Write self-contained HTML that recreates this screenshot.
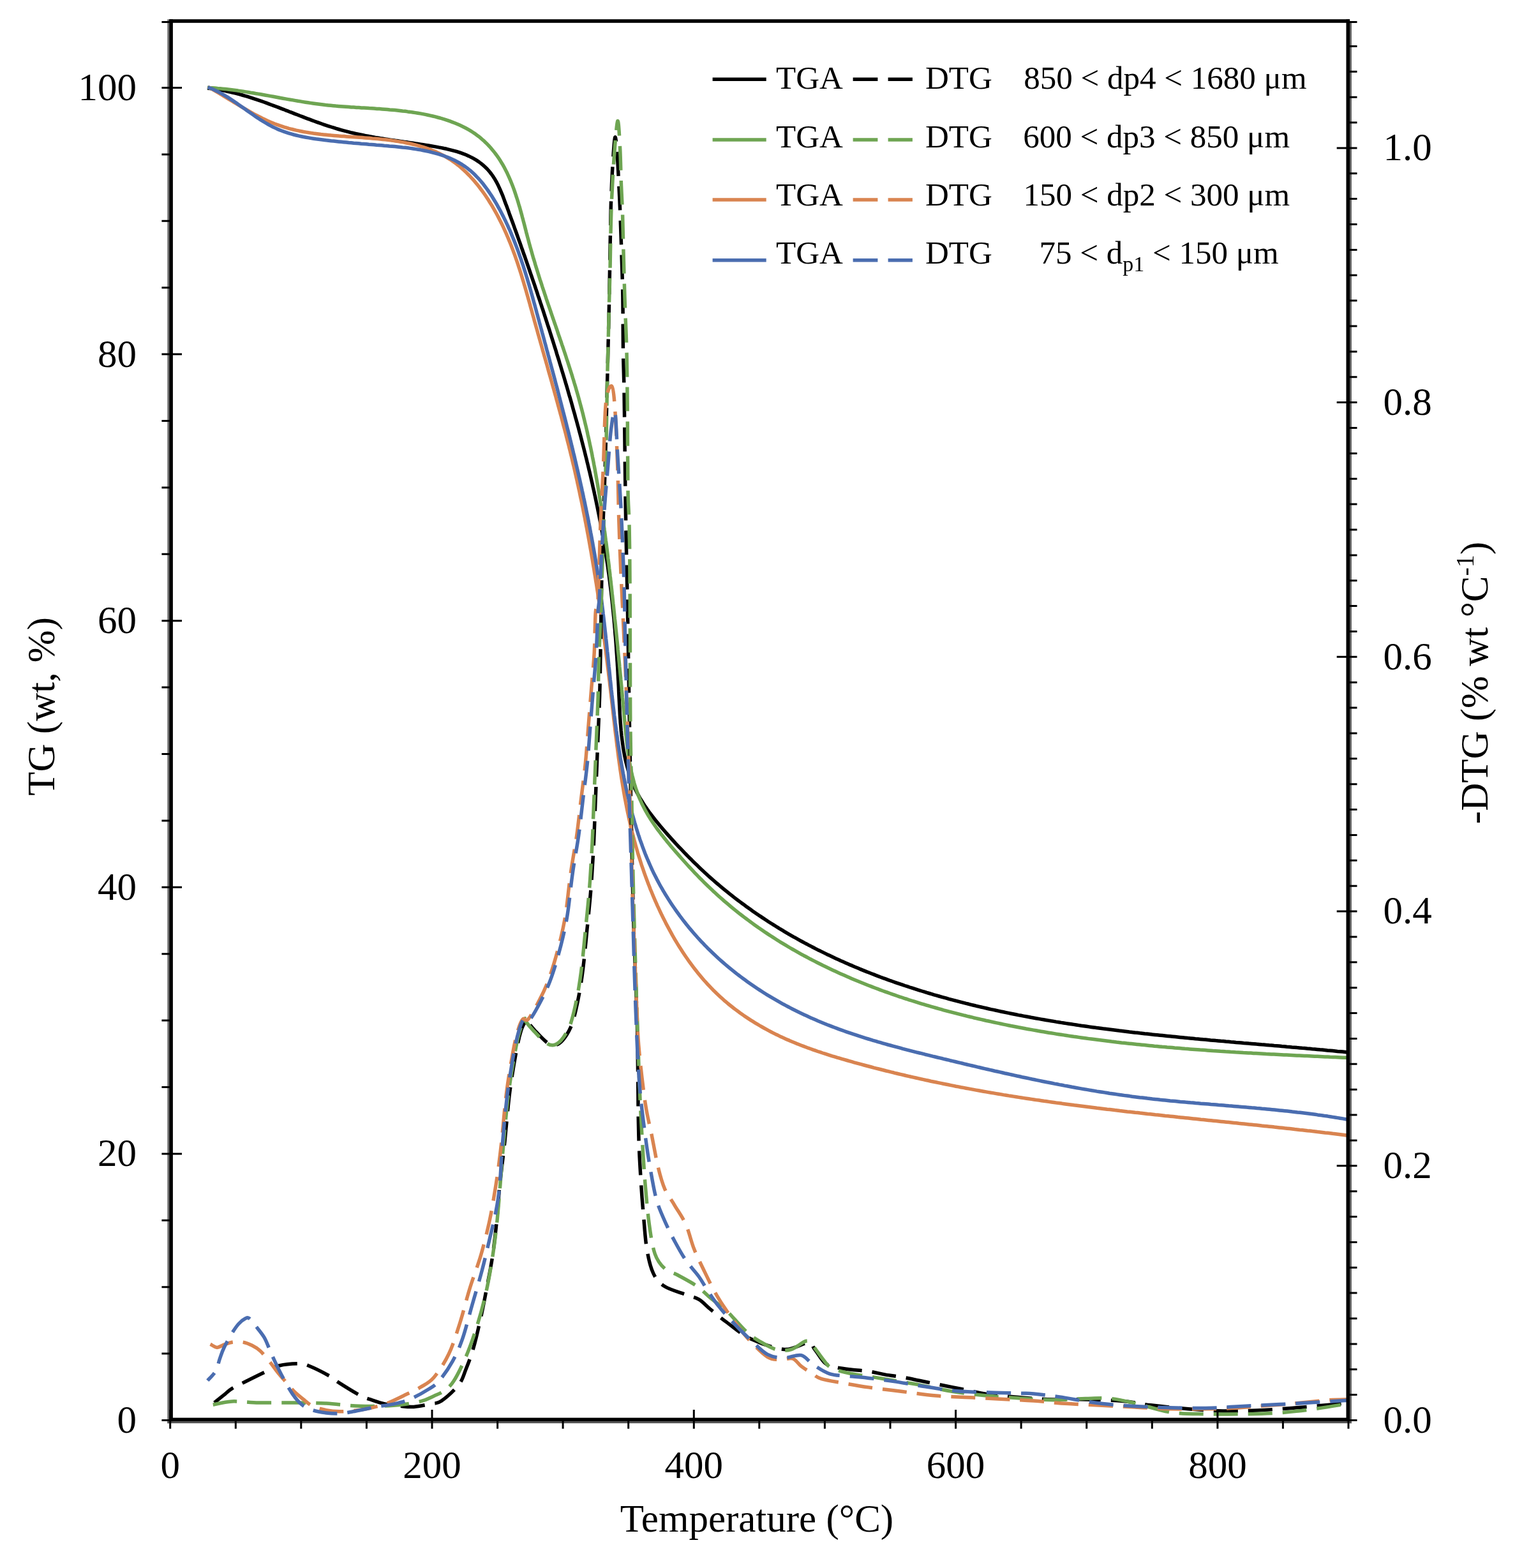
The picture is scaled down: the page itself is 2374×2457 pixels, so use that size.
<!DOCTYPE html>
<html><head><meta charset="utf-8"><title>TGA DTG</title>
<style>
html,body{margin:0;padding:0;background:#fff;}
body{width:2374px;height:2457px;overflow:hidden;}
svg{display:block;}
text{font-family:'Liberation Serif', 'Times New Roman', serif;fill:#000;}
</style></head><body>
<svg width="2374" height="2457" viewBox="0 0 2374 2457">
<rect width="2374" height="2457" fill="#fff"/>
<g fill="none" stroke-width="5.5" stroke-linejoin="round" stroke-linecap="butt">
<path stroke="#000000" d="M325.1 138.2L329.0 138.6L333.0 139.1L336.9 139.6L340.8 140.2L344.8 140.9L348.7 141.6L352.5 142.4L356.4 143.2L360.3 144.1L364.2 145.0L368.0 145.9L371.9 146.9L375.7 147.9L379.6 149.0L383.4 150.1L387.2 151.2L391.0 152.4L394.8 153.6L398.6 154.9L402.4 156.1L406.2 157.4L410.0 158.7L413.8 160.0L417.6 161.4L421.4 162.8L425.1 164.2L428.9 165.6L432.7 167.0L436.4 168.4L440.2 169.9L444.0 171.3L447.7 172.8L451.5 174.2L455.2 175.7L459.0 177.1L462.7 178.6L466.5 180.0L470.2 181.5L474.0 182.9L477.7 184.4L481.5 185.8L485.3 187.2L489.0 188.6L492.8 190.0L496.5 191.3L500.3 192.7L504.1 194.0L507.8 195.3L511.6 196.6L515.4 197.8L519.2 199.0L523.0 200.2L526.7 201.4L530.5 202.5L534.3 203.6L538.1 204.7L542.0 205.7L545.8 206.6L549.6 207.6L553.4 208.5L557.3 209.4L561.1 210.2L564.9 211.0L568.8 211.8L572.7 212.6L576.5 213.3L580.4 214.0L584.3 214.7L588.2 215.4L592.1 216.0L596.0 216.7L599.9 217.3L603.8 217.9L607.7 218.5L611.6 219.1L615.6 219.7L619.5 220.3L623.4 220.8L627.4 221.4L631.4 222.0L635.3 222.6L639.3 223.1L643.3 223.7L647.3 224.3L651.3 224.9L655.3 225.5L659.3 226.1L663.3 226.7L667.4 227.4L671.4 228.0L675.5 228.7L679.5 229.4L683.6 230.1L687.6 230.9L691.7 231.6L695.7 232.5L699.7 233.3L703.7 234.3L707.7 235.3L711.6 236.3L715.5 237.4L719.4 238.6L723.1 239.9L726.9 241.3L730.6 242.8L734.2 244.4L737.7 246.1L741.2 247.9L744.6 249.8L747.8 251.9L751.0 254.1L754.1 256.4L757.1 258.9L760.0 261.5L762.8 264.2L765.4 267.0L767.9 270.0L770.2 273.0L772.5 276.2L774.6 279.4L776.6 282.8L778.5 286.2L780.3 289.7L782.0 293.3L783.6 296.9L785.2 300.6L786.8 304.3L788.3 308.1L789.7 311.9L791.1 315.7L792.5 319.5L794.0 323.3L795.4 327.1L796.8 330.9L798.1 334.7L799.5 338.5L800.9 342.2L802.3 346.0L803.7 349.8L805.1 353.6L806.4 357.4L807.8 361.2L809.2 365.0L810.5 368.8L811.9 372.6L813.2 376.3L814.6 380.1L815.9 383.9L817.2 387.7L818.6 391.5L819.9 395.3L821.2 399.0L822.6 402.8L823.9 406.6L825.2 410.4L826.5 414.1L827.8 417.9L829.1 421.7L830.4 425.5L831.7 429.3L833.0 433.0L834.3 436.8L835.6 440.6L836.9 444.4L838.2 448.1L839.4 451.9L840.7 455.7L842.0 459.5L843.2 463.3L844.5 467.0L845.8 470.8L847.0 474.6L848.3 478.4L849.5 482.2L850.8 485.9L852.0 489.7L853.2 493.5L854.5 497.3L855.7 501.1L856.9 504.9L858.1 508.7L859.4 512.5L860.6 516.2L861.8 520.0L863.0 523.8L864.2 527.6L865.4 531.4L866.6 535.2L867.8 539.0L869.0 542.8L870.2 546.6L871.4 550.4L872.5 554.3L873.7 558.1L874.9 561.9L876.1 565.7L877.2 569.5L878.4 573.3L879.5 577.1L880.7 581.0L881.9 584.8L883.0 588.6L884.2 592.5L885.3 596.3L886.4 600.1L887.6 603.9L888.7 607.8L889.8 611.6L890.9 615.5L892.0 619.3L893.2 623.1L894.3 627.0L895.4 630.8L896.5 634.7L897.5 638.5L898.6 642.4L899.7 646.2L900.8 650.1L901.8 654.0L902.9 657.8L904.0 661.7L905.0 665.5L906.1 669.4L907.1 673.3L908.1 677.1L909.2 681.0L910.2 684.9L911.2 688.8L912.2 692.6L913.2 696.5L914.2 700.4L915.2 704.3L916.2 708.1L917.1 712.0L918.1 715.9L919.1 719.8L920.0 723.7L921.0 727.6L921.9 731.4L922.8 735.3L923.8 739.2L924.7 743.1L925.6 747.0L926.5 750.9L927.4 754.8L928.3 758.7L929.1 762.6L930.0 766.5L930.9 770.4L931.7 774.3L932.6 778.2L933.4 782.1L934.2 786.0L935.0 789.9L935.8 793.8L936.6 797.7L937.4 801.6L938.2 805.6L939.0 809.5L939.7 813.4L940.5 817.3L941.2 821.2L942.0 825.1L942.7 829.0L943.4 833.0L944.1 836.9L944.8 840.8L945.5 844.7L946.2 848.6L946.8 852.6L947.5 856.5L948.1 860.4L948.8 864.3L949.4 868.3L950.0 872.2L950.6 876.1L951.2 880.1L951.8 884.0L952.3 887.9L952.9 891.8L953.4 895.8L954.0 899.7L954.5 903.7L955.0 907.6L955.5 911.5L956.0 915.5L956.5 919.4L957.0 923.4L957.5 927.3L957.9 931.2L958.4 935.2L958.8 939.1L959.3 943.1L959.7 947.1L960.1 951.0L960.5 955.0L960.9 958.9L961.3 962.9L961.7 966.9L962.1 970.8L962.4 974.8L962.8 978.8L963.1 982.8L963.5 986.7L963.8 990.7L964.1 994.7L964.5 998.7L964.8 1002.7L965.1 1006.7L965.4 1010.7L965.7 1014.7L965.9 1018.7L966.2 1022.7L966.5 1026.7L966.8 1030.8L967.0 1034.8L967.3 1038.8L967.5 1042.8L967.8 1046.9L968.0 1050.9L968.2 1055.0L968.4 1059.0L968.6 1063.1L968.9 1067.1L969.1 1071.2L969.3 1075.2L969.5 1079.3L969.6 1083.4L969.8 1087.5L970.0 1091.6L970.2 1095.6L970.4 1099.7L970.6 1103.8L970.8 1107.9L971.0 1112.0L971.2 1116.1L971.4 1120.1L971.7 1124.2L972.0 1128.3L972.2 1132.3L972.6 1136.4L972.9 1140.4L973.2 1144.5L973.6 1148.5L974.0 1152.5L974.5 1156.5L975.0 1160.5L975.5 1164.5L976.1 1168.4L976.6 1172.3L977.3 1176.3L978.0 1180.2L978.7 1184.0L979.5 1187.9L980.3 1191.7L981.2 1195.6L982.2 1199.4L983.2 1203.1L984.2 1206.9L985.3 1210.6L986.5 1214.3L987.8 1217.9L989.1 1221.6L990.5 1225.2L991.9 1228.7L993.5 1232.3L995.1 1235.8L996.8 1239.2L998.5 1242.7L1000.4 1246.1L1002.3 1249.5L1004.2 1252.8L1006.3 1256.1L1008.3 1259.4L1010.5 1262.7L1012.7 1265.9L1014.9 1269.2L1017.2 1272.4L1019.6 1275.5L1022.0 1278.7L1024.4 1281.8L1026.9 1284.9L1029.4 1288.0L1031.9 1291.1L1034.5 1294.2L1037.1 1297.3L1039.7 1300.3L1042.3 1303.3L1045.0 1306.4L1047.7 1309.4L1050.4 1312.4L1053.1 1315.4L1055.8 1318.4L1058.5 1321.4L1061.3 1324.3L1064.1 1327.3L1066.9 1330.2L1069.7 1333.2L1072.5 1336.1L1075.3 1339.0L1078.1 1341.9L1081.0 1344.8L1083.9 1347.6L1086.7 1350.5L1089.6 1353.3L1092.6 1356.1L1095.5 1358.9L1098.4 1361.7L1101.4 1364.5L1104.3 1367.2L1107.3 1370.0L1110.3 1372.7L1113.3 1375.4L1116.3 1378.0L1119.4 1380.7L1122.4 1383.3L1125.5 1385.9L1128.5 1388.5L1131.6 1391.1L1134.7 1393.6L1137.8 1396.2L1140.9 1398.7L1144.0 1401.2L1147.2 1403.7L1150.3 1406.1L1153.5 1408.6L1156.7 1411.0L1159.9 1413.4L1163.1 1415.8L1166.3 1418.1L1169.5 1420.5L1172.7 1422.8L1176.0 1425.1L1179.2 1427.4L1182.5 1429.7L1185.8 1432.0L1189.1 1434.2L1192.4 1436.4L1195.7 1438.6L1199.0 1440.8L1202.3 1443.0L1205.7 1445.2L1209.0 1447.3L1212.4 1449.4L1215.8 1451.5L1219.2 1453.6L1222.5 1455.7L1225.9 1457.7L1229.4 1459.8L1232.8 1461.8L1236.2 1463.8L1239.7 1465.8L1243.1 1467.8L1246.6 1469.7L1250.0 1471.6L1253.5 1473.6L1257.0 1475.5L1260.5 1477.4L1264.0 1479.2L1267.5 1481.1L1271.0 1482.9L1274.6 1484.8L1278.1 1486.6L1281.6 1488.4L1285.2 1490.1L1288.8 1491.9L1292.3 1493.6L1295.9 1495.4L1299.5 1497.1L1303.1 1498.8L1306.7 1500.5L1310.3 1502.2L1313.9 1503.8L1317.5 1505.5L1321.2 1507.1L1324.8 1508.7L1328.5 1510.3L1332.1 1511.9L1335.8 1513.4L1339.4 1515.0L1343.1 1516.5L1346.8 1518.1L1350.5 1519.6L1354.2 1521.1L1357.9 1522.6L1361.6 1524.0L1365.3 1525.5L1369.0 1526.9L1372.7 1528.4L1376.5 1529.8L1380.2 1531.2L1383.9 1532.6L1387.7 1533.9L1391.5 1535.3L1395.2 1536.7L1399.0 1538.0L1402.7 1539.3L1406.5 1540.6L1410.3 1541.9L1414.1 1543.2L1417.9 1544.5L1421.7 1545.7L1425.5 1547.0L1429.3 1548.2L1433.1 1549.4L1436.9 1550.6L1440.7 1551.8L1444.5 1553.0L1448.4 1554.2L1452.2 1555.4L1456.0 1556.5L1459.9 1557.6L1463.7 1558.8L1467.6 1559.9L1471.4 1561.0L1475.3 1562.1L1479.1 1563.1L1483.0 1564.2L1486.8 1565.3L1490.7 1566.3L1494.6 1567.3L1498.5 1568.4L1502.3 1569.4L1506.2 1570.4L1510.1 1571.4L1514.0 1572.4L1517.9 1573.3L1521.8 1574.3L1525.6 1575.2L1529.5 1576.2L1533.4 1577.1L1537.3 1578.0L1541.2 1578.9L1545.1 1579.8L1549.0 1580.7L1552.9 1581.6L1556.9 1582.4L1560.8 1583.3L1564.7 1584.1L1568.6 1585.0L1572.5 1585.8L1576.4 1586.6L1580.3 1587.4L1584.2 1588.2L1588.2 1589.0L1592.1 1589.8L1596.0 1590.6L1599.9 1591.3L1603.9 1592.1L1607.8 1592.8L1611.7 1593.5L1615.6 1594.3L1619.6 1595.0L1623.5 1595.7L1627.4 1596.4L1631.4 1597.1L1635.3 1597.8L1639.3 1598.5L1643.2 1599.1L1647.1 1599.8L1651.1 1600.4L1655.0 1601.1L1659.0 1601.7L1662.9 1602.4L1666.8 1603.0L1670.8 1603.6L1674.7 1604.2L1678.7 1604.8L1682.6 1605.4L1686.6 1606.0L1690.5 1606.6L1694.5 1607.2L1698.5 1607.7L1702.4 1608.3L1706.4 1608.9L1710.3 1609.4L1714.3 1609.9L1718.2 1610.5L1722.2 1611.0L1726.2 1611.5L1730.1 1612.1L1734.1 1612.6L1738.0 1613.1L1742.0 1613.6L1746.0 1614.1L1749.9 1614.6L1753.9 1615.1L1757.9 1615.5L1761.8 1616.0L1765.8 1616.5L1769.8 1617.0L1773.8 1617.4L1777.7 1617.9L1781.7 1618.3L1785.7 1618.8L1789.6 1619.2L1793.6 1619.7L1797.6 1620.1L1801.6 1620.5L1805.5 1621.0L1809.5 1621.4L1813.5 1621.8L1817.5 1622.2L1821.4 1622.6L1825.4 1623.0L1829.4 1623.4L1833.4 1623.8L1837.4 1624.2L1841.3 1624.6L1845.3 1625.0L1849.3 1625.4L1853.3 1625.8L1857.3 1626.2L1861.2 1626.6L1865.2 1626.9L1869.2 1627.3L1873.2 1627.7L1877.2 1628.0L1881.1 1628.4L1885.1 1628.8L1889.1 1629.1L1893.1 1629.5L1897.1 1629.9L1901.1 1630.2L1905.0 1630.6L1909.0 1630.9L1913.0 1631.3L1917.0 1631.6L1921.0 1632.0L1925.0 1632.3L1928.9 1632.7L1932.9 1633.0L1936.9 1633.4L1940.9 1633.7L1944.9 1634.0L1948.9 1634.4L1952.8 1634.7L1956.8 1635.1L1960.8 1635.4L1964.8 1635.7L1968.8 1636.1L1972.8 1636.4L1976.7 1636.8L1980.7 1637.1L1984.7 1637.4L1988.7 1637.8L1992.7 1638.1L1996.6 1638.5L2000.6 1638.8L2004.6 1639.1L2008.6 1639.5L2012.6 1639.8L2016.5 1640.2L2020.5 1640.5L2024.5 1640.9L2028.5 1641.2L2032.5 1641.6L2036.4 1641.9L2040.4 1642.3L2044.4 1642.6L2048.4 1643.0L2052.3 1643.3L2056.3 1643.7L2060.3 1644.0L2064.3 1644.4L2068.2 1644.8L2072.2 1645.1L2076.2 1645.5L2080.1 1645.9L2084.1 1646.2L2088.1 1646.6L2092.1 1647.0L2096.0 1647.4L2100.0 1647.7L2104.0 1648.1L2107.9 1648.5L2111.9 1648.9"/>
<path stroke="#6EA552" d="M324.9 137.3L328.9 137.6L333.0 137.8L337.0 138.1L341.1 138.5L345.1 138.8L349.1 139.2L353.1 139.6L357.1 140.1L361.1 140.6L365.1 141.1L369.0 141.6L373.0 142.1L376.9 142.7L380.9 143.3L384.8 143.9L388.8 144.5L392.7 145.2L396.6 145.8L400.5 146.5L404.5 147.1L408.4 147.8L412.3 148.5L416.2 149.2L420.1 149.9L424.0 150.6L427.9 151.3L431.8 152.0L435.7 152.7L439.6 153.5L443.5 154.2L447.4 154.9L451.3 155.6L455.2 156.3L459.1 156.9L463.0 157.6L466.9 158.3L470.8 158.9L474.8 159.6L478.7 160.2L482.6 160.8L486.5 161.4L490.5 162.0L494.4 162.5L498.4 163.0L502.3 163.5L506.3 164.0L510.2 164.5L514.2 164.9L518.2 165.3L522.2 165.7L526.2 166.1L530.2 166.4L534.2 166.7L538.2 167.0L542.2 167.3L546.2 167.6L550.2 167.9L554.3 168.1L558.3 168.4L562.3 168.6L566.4 168.9L570.4 169.1L574.4 169.3L578.5 169.6L582.5 169.8L586.5 170.1L590.6 170.4L594.6 170.6L598.6 170.9L602.7 171.2L606.7 171.5L610.7 171.9L614.7 172.2L618.8 172.6L622.8 173.0L626.8 173.4L630.8 173.9L634.8 174.3L638.8 174.9L642.8 175.4L646.7 176.0L650.7 176.6L654.7 177.2L658.6 177.9L662.6 178.6L666.5 179.4L670.4 180.2L674.3 181.1L678.2 182.0L682.1 182.9L686.0 184.0L689.9 185.0L693.7 186.2L697.6 187.3L701.4 188.6L705.1 189.9L708.9 191.3L712.6 192.7L716.2 194.2L719.8 195.8L723.4 197.5L726.9 199.2L730.4 201.0L733.8 202.9L737.2 204.9L740.5 207.0L743.7 209.1L746.9 211.4L750.0 213.7L753.0 216.1L755.9 218.7L758.8 221.2L761.6 223.9L764.3 226.7L767.0 229.5L769.6 232.4L772.1 235.4L774.5 238.4L776.9 241.5L779.2 244.6L781.4 247.8L783.5 251.1L785.6 254.4L787.6 257.7L789.5 261.1L791.3 264.6L793.1 268.0L794.9 271.6L796.5 275.1L798.1 278.7L799.7 282.3L801.2 286.0L802.7 289.7L804.1 293.4L805.5 297.2L806.8 301.0L808.1 304.8L809.3 308.6L810.6 312.5L811.8 316.3L812.9 320.2L814.1 324.1L815.2 328.0L816.3 332.0L817.4 335.9L818.4 339.9L819.5 343.8L820.5 347.8L821.6 351.8L822.6 355.7L823.6 359.7L824.6 363.7L825.7 367.7L826.7 371.6L827.8 375.6L828.8 379.5L829.9 383.5L831.0 387.4L832.1 391.3L833.2 395.3L834.3 399.2L835.4 403.1L836.6 406.9L837.8 410.8L838.9 414.7L840.1 418.6L841.3 422.4L842.5 426.3L843.7 430.1L844.9 434.0L846.1 437.8L847.4 441.6L848.6 445.4L849.8 449.3L851.1 453.1L852.4 456.9L853.6 460.7L854.9 464.5L856.1 468.3L857.4 472.0L858.7 475.8L860.0 479.6L861.3 483.4L862.6 487.2L863.8 490.9L865.1 494.7L866.4 498.5L867.7 502.2L869.0 506.0L870.3 509.7L871.6 513.5L872.9 517.2L874.1 521.0L875.4 524.8L876.7 528.5L878.0 532.3L879.3 536.0L880.5 539.8L881.8 543.5L883.1 547.3L884.3 551.0L885.6 554.8L886.8 558.5L888.0 562.3L889.3 566.1L890.5 569.8L891.7 573.6L892.9 577.4L894.1 581.1L895.3 584.9L896.5 588.7L897.6 592.5L898.8 596.2L899.9 600.0L901.1 603.8L902.2 607.6L903.3 611.4L904.4 615.2L905.5 619.1L906.6 622.9L907.6 626.7L908.6 630.5L909.7 634.4L910.7 638.2L911.7 642.0L912.7 645.9L913.7 649.8L914.6 653.6L915.6 657.5L916.5 661.4L917.4 665.2L918.4 669.1L919.3 673.0L920.2 676.9L921.0 680.8L921.9 684.7L922.8 688.6L923.6 692.5L924.4 696.4L925.3 700.3L926.1 704.2L926.9 708.1L927.7 712.0L928.4 716.0L929.2 719.9L930.0 723.8L930.7 727.8L931.5 731.7L932.2 735.6L932.9 739.6L933.6 743.5L934.3 747.5L935.0 751.4L935.7 755.4L936.4 759.3L937.1 763.3L937.7 767.3L938.4 771.2L939.0 775.2L939.6 779.1L940.3 783.1L940.9 787.1L941.5 791.1L942.1 795.0L942.7 799.0L943.3 803.0L943.9 806.9L944.5 810.9L945.0 814.9L945.6 818.9L946.1 822.9L946.7 826.8L947.2 830.8L947.8 834.8L948.3 838.8L948.8 842.8L949.3 846.8L949.9 850.7L950.4 854.7L950.9 858.7L951.4 862.7L951.9 866.7L952.4 870.6L952.8 874.6L953.3 878.6L953.8 882.6L954.3 886.6L954.7 890.5L955.2 894.5L955.7 898.5L956.1 902.5L956.6 906.4L957.0 910.4L957.5 914.4L957.9 918.4L958.4 922.3L958.8 926.3L959.2 930.3L959.7 934.2L960.1 938.2L960.5 942.2L960.9 946.1L961.4 950.1L961.8 954.0L962.2 958.0L962.6 961.9L963.0 965.9L963.4 969.8L963.9 973.8L964.3 977.8L964.7 981.7L965.1 985.7L965.5 989.6L965.9 993.6L966.3 997.5L966.7 1001.5L967.1 1005.4L967.5 1009.4L967.9 1013.3L968.2 1017.3L968.6 1021.2L969.0 1025.2L969.4 1029.2L969.8 1033.1L970.2 1037.1L970.6 1041.0L970.9 1045.0L971.3 1049.0L971.7 1052.9L972.1 1056.9L972.5 1060.9L972.8 1064.8L973.2 1068.8L973.6 1072.8L974.0 1076.8L974.3 1080.7L974.7 1084.7L975.1 1088.7L975.4 1092.7L975.8 1096.7L976.2 1100.7L976.5 1104.7L976.9 1108.7L977.3 1112.7L977.7 1116.7L978.0 1120.7L978.4 1124.7L978.8 1128.7L979.1 1132.7L979.5 1136.7L979.9 1140.8L980.2 1144.8L980.6 1148.8L981.0 1152.8L981.5 1156.9L981.9 1160.9L982.3 1164.9L982.8 1168.9L983.3 1172.9L983.8 1176.9L984.4 1180.8L984.9 1184.8L985.6 1188.8L986.2 1192.7L986.9 1196.6L987.6 1200.5L988.4 1204.4L989.2 1208.3L990.0 1212.2L990.9 1216.0L991.9 1219.8L992.9 1223.6L993.9 1227.4L995.0 1231.2L996.2 1234.9L997.5 1238.6L998.8 1242.3L1000.1 1246.0L1001.6 1249.6L1003.1 1253.2L1004.7 1256.7L1006.3 1260.3L1008.1 1263.8L1009.9 1267.2L1011.7 1270.7L1013.7 1274.1L1015.6 1277.5L1017.7 1280.8L1019.8 1284.2L1022.0 1287.5L1024.2 1290.8L1026.4 1294.0L1028.7 1297.3L1031.1 1300.5L1033.5 1303.7L1035.9 1306.9L1038.4 1310.0L1040.9 1313.2L1043.4 1316.3L1045.9 1319.5L1048.5 1322.6L1051.1 1325.7L1053.7 1328.7L1056.3 1331.8L1059.0 1334.9L1061.7 1337.9L1064.3 1340.9L1067.0 1344.0L1069.7 1347.0L1072.4 1350.0L1075.1 1353.0L1077.8 1356.0L1080.6 1359.0L1083.3 1361.9L1086.1 1364.9L1088.8 1367.8L1091.6 1370.7L1094.4 1373.6L1097.2 1376.5L1100.1 1379.3L1102.9 1382.2L1105.8 1385.0L1108.6 1387.8L1111.5 1390.6L1114.4 1393.3L1117.3 1396.1L1120.3 1398.8L1123.2 1401.5L1126.2 1404.2L1129.1 1406.8L1132.1 1409.4L1135.1 1412.1L1138.2 1414.7L1141.2 1417.2L1144.3 1419.8L1147.3 1422.3L1150.4 1424.8L1153.5 1427.3L1156.6 1429.8L1159.7 1432.3L1162.9 1434.7L1166.0 1437.1L1169.2 1439.5L1172.4 1441.9L1175.6 1444.2L1178.8 1446.6L1182.0 1448.9L1185.2 1451.2L1188.4 1453.5L1191.7 1455.7L1195.0 1458.0L1198.2 1460.2L1201.5 1462.4L1204.8 1464.6L1208.2 1466.8L1211.5 1468.9L1214.8 1471.0L1218.2 1473.2L1221.5 1475.3L1224.9 1477.3L1228.3 1479.4L1231.7 1481.4L1235.1 1483.5L1238.5 1485.5L1242.0 1487.5L1245.4 1489.4L1248.9 1491.4L1252.3 1493.3L1255.8 1495.3L1259.3 1497.2L1262.8 1499.0L1266.3 1500.9L1269.8 1502.8L1273.3 1504.6L1276.9 1506.4L1280.4 1508.2L1284.0 1510.0L1287.5 1511.8L1291.1 1513.6L1294.7 1515.3L1298.3 1517.0L1301.9 1518.7L1305.5 1520.4L1309.1 1522.1L1312.7 1523.8L1316.3 1525.4L1320.0 1527.0L1323.6 1528.6L1327.3 1530.2L1330.9 1531.8L1334.6 1533.4L1338.3 1535.0L1342.0 1536.5L1345.7 1538.0L1349.4 1539.5L1353.1 1541.0L1356.8 1542.5L1360.5 1544.0L1364.3 1545.4L1368.0 1546.9L1371.7 1548.3L1375.5 1549.7L1379.2 1551.1L1383.0 1552.5L1386.8 1553.8L1390.6 1555.2L1394.3 1556.5L1398.1 1557.9L1401.9 1559.2L1405.7 1560.5L1409.5 1561.8L1413.3 1563.0L1417.1 1564.3L1421.0 1565.5L1424.8 1566.8L1428.6 1568.0L1432.4 1569.2L1436.3 1570.4L1440.1 1571.6L1444.0 1572.8L1447.8 1573.9L1451.7 1575.1L1455.5 1576.2L1459.4 1577.3L1463.2 1578.4L1467.1 1579.5L1471.0 1580.6L1474.9 1581.7L1478.7 1582.8L1482.6 1583.8L1486.5 1584.9L1490.4 1585.9L1494.3 1586.9L1498.2 1587.9L1502.1 1588.9L1506.0 1589.9L1509.9 1590.9L1513.8 1591.8L1517.7 1592.8L1521.6 1593.7L1525.5 1594.7L1529.4 1595.6L1533.3 1596.5L1537.2 1597.4L1541.1 1598.3L1545.0 1599.2L1549.0 1600.0L1552.9 1600.9L1556.8 1601.8L1560.7 1602.6L1564.6 1603.4L1568.6 1604.3L1572.5 1605.1L1576.4 1605.9L1580.3 1606.7L1584.2 1607.5L1588.2 1608.2L1592.1 1609.0L1596.0 1609.8L1599.9 1610.5L1603.9 1611.2L1607.8 1612.0L1611.7 1612.7L1615.6 1613.4L1619.6 1614.1L1623.5 1614.8L1627.4 1615.5L1631.4 1616.2L1635.3 1616.8L1639.2 1617.5L1643.2 1618.2L1647.1 1618.8L1651.0 1619.4L1655.0 1620.1L1658.9 1620.7L1662.8 1621.3L1666.8 1621.9L1670.7 1622.5L1674.7 1623.1L1678.6 1623.7L1682.5 1624.3L1686.5 1624.8L1690.4 1625.4L1694.4 1626.0L1698.3 1626.5L1702.2 1627.0L1706.2 1627.6L1710.1 1628.1L1714.1 1628.6L1718.0 1629.1L1722.0 1629.6L1725.9 1630.1L1729.9 1630.6L1733.8 1631.1L1737.8 1631.6L1741.7 1632.1L1745.7 1632.5L1749.6 1633.0L1753.6 1633.4L1757.5 1633.9L1761.5 1634.3L1765.5 1634.8L1769.4 1635.2L1773.4 1635.6L1777.3 1636.0L1781.3 1636.4L1785.2 1636.8L1789.2 1637.2L1793.2 1637.6L1797.1 1638.0L1801.1 1638.4L1805.1 1638.8L1809.0 1639.2L1813.0 1639.5L1816.9 1639.9L1820.9 1640.3L1824.9 1640.6L1828.8 1641.0L1832.8 1641.3L1836.8 1641.6L1840.7 1642.0L1844.7 1642.3L1848.7 1642.6L1852.7 1642.9L1856.6 1643.3L1860.6 1643.6L1864.6 1643.9L1868.6 1644.2L1872.5 1644.5L1876.5 1644.8L1880.5 1645.1L1884.5 1645.3L1888.4 1645.6L1892.4 1645.9L1896.4 1646.2L1900.4 1646.5L1904.4 1646.7L1908.3 1647.0L1912.3 1647.3L1916.3 1647.5L1920.3 1647.8L1924.3 1648.0L1928.3 1648.3L1932.2 1648.5L1936.2 1648.8L1940.2 1649.0L1944.2 1649.2L1948.2 1649.5L1952.2 1649.7L1956.2 1649.9L1960.2 1650.1L1964.2 1650.4L1968.1 1650.6L1972.1 1650.8L1976.1 1651.0L1980.1 1651.2L1984.1 1651.5L1988.1 1651.7L1992.1 1651.9L1996.1 1652.1L2000.1 1652.3L2004.1 1652.5L2008.1 1652.7L2012.1 1652.9L2016.1 1653.1L2020.1 1653.3L2024.1 1653.5L2028.1 1653.7L2032.1 1653.9L2036.1 1654.0L2040.1 1654.2L2044.1 1654.4L2048.1 1654.6L2052.1 1654.8L2056.1 1655.0L2060.2 1655.2L2064.2 1655.3L2068.2 1655.5L2072.2 1655.7L2076.2 1655.9L2080.2 1656.1L2084.2 1656.3L2088.2 1656.4L2092.2 1656.6L2096.3 1656.8L2100.3 1657.0L2104.3 1657.2L2108.3 1657.3L2112.3 1657.5"/>
<path stroke="#D98450" d="M325.7 136.1L329.2 138.0L332.6 139.9L336.1 141.9L339.5 143.9L343.0 146.0L346.5 148.0L349.9 150.1L353.3 152.2L356.8 154.3L360.2 156.4L363.7 158.5L367.1 160.6L370.6 162.6L374.0 164.7L377.5 166.8L380.9 168.9L384.4 170.9L387.9 172.9L391.3 174.9L394.8 176.9L398.3 178.8L401.9 180.7L405.4 182.5L408.9 184.3L412.5 186.1L416.1 187.8L419.6 189.4L423.2 191.0L426.9 192.5L430.5 194.0L434.2 195.4L437.9 196.7L441.6 197.9L445.3 199.1L449.0 200.2L452.8 201.3L456.6 202.3L460.4 203.2L464.2 204.1L468.0 204.9L471.9 205.7L475.7 206.5L479.6 207.1L483.5 207.8L487.4 208.4L491.3 209.0L495.2 209.5L499.2 210.0L503.1 210.5L507.1 210.9L511.1 211.3L515.0 211.7L519.0 212.1L523.0 212.4L527.0 212.7L531.0 213.1L535.1 213.4L539.1 213.6L543.1 213.9L547.1 214.2L551.2 214.5L555.2 214.8L559.3 215.0L563.3 215.3L567.4 215.6L571.4 215.9L575.5 216.2L579.5 216.5L583.6 216.9L587.6 217.2L591.7 217.6L595.7 218.0L599.8 218.4L603.8 218.8L607.8 219.3L611.9 219.8L615.9 220.4L619.9 221.0L623.9 221.6L627.9 222.2L631.9 222.9L635.8 223.7L639.8 224.5L643.7 225.3L647.6 226.2L651.4 227.2L655.3 228.2L659.1 229.3L662.9 230.4L666.6 231.6L670.3 232.9L674.0 234.2L677.7 235.7L681.3 237.1L684.9 238.7L688.4 240.4L691.9 242.1L695.3 243.9L698.7 245.8L702.0 247.8L705.3 249.8L708.5 252.0L711.7 254.3L714.9 256.6L718.0 259.0L721.0 261.5L724.0 264.1L726.9 266.7L729.8 269.4L732.6 272.2L735.4 275.0L738.1 278.0L740.8 280.9L743.5 283.9L746.0 287.0L748.6 290.1L751.1 293.3L753.5 296.5L755.9 299.7L758.3 303.0L760.6 306.3L762.9 309.7L765.1 313.1L767.2 316.5L769.4 319.9L771.5 323.3L773.5 326.8L775.5 330.3L777.4 333.8L779.3 337.3L781.2 340.9L783.0 344.4L784.8 348.0L786.6 351.6L788.3 355.2L790.0 358.8L791.6 362.4L793.3 366.1L794.8 369.7L796.4 373.4L797.9 377.1L799.4 380.8L800.9 384.5L802.3 388.2L803.7 391.9L805.1 395.7L806.5 399.4L807.8 403.2L809.1 406.9L810.4 410.7L811.7 414.5L812.9 418.3L814.2 422.1L815.4 425.9L816.6 429.7L817.8 433.6L818.9 437.4L820.1 441.2L821.2 445.1L822.4 448.9L823.5 452.8L824.6 456.6L825.7 460.5L826.8 464.3L827.9 468.2L829.0 472.1L830.1 475.9L831.1 479.8L832.2 483.7L833.3 487.5L834.3 491.4L835.4 495.3L836.5 499.1L837.5 503.0L838.6 506.8L839.7 510.7L840.8 514.6L841.9 518.4L842.9 522.3L844.0 526.1L845.1 530.0L846.2 533.8L847.3 537.7L848.4 541.6L849.5 545.4L850.5 549.3L851.6 553.1L852.7 557.0L853.8 560.8L854.9 564.6L856.0 568.5L857.1 572.3L858.2 576.2L859.2 580.0L860.3 583.9L861.4 587.7L862.5 591.6L863.6 595.4L864.7 599.3L865.7 603.1L866.8 606.9L867.9 610.8L868.9 614.6L870.0 618.5L871.1 622.3L872.1 626.2L873.2 630.0L874.2 633.9L875.3 637.7L876.3 641.6L877.4 645.4L878.4 649.3L879.5 653.1L880.5 657.0L881.5 660.8L882.5 664.7L883.5 668.5L884.6 672.4L885.6 676.2L886.6 680.1L887.5 683.9L888.5 687.8L889.5 691.7L890.5 695.5L891.5 699.4L892.4 703.3L893.4 707.1L894.3 711.0L895.3 714.9L896.2 718.7L897.1 722.6L898.0 726.5L899.0 730.4L899.9 734.3L900.8 738.1L901.6 742.0L902.5 745.9L903.4 749.8L904.3 753.7L905.1 757.6L906.0 761.5L906.8 765.4L907.7 769.3L908.5 773.2L909.3 777.1L910.1 781.0L911.0 784.9L911.8 788.8L912.6 792.7L913.4 796.6L914.1 800.5L914.9 804.5L915.7 808.4L916.5 812.3L917.2 816.2L918.0 820.1L918.7 824.0L919.5 828.0L920.2 831.9L920.9 835.8L921.7 839.7L922.4 843.7L923.1 847.6L923.8 851.5L924.5 855.5L925.2 859.4L925.9 863.3L926.6 867.3L927.2 871.2L927.9 875.1L928.6 879.1L929.2 883.0L929.9 887.0L930.6 890.9L931.2 894.8L931.8 898.8L932.5 902.7L933.1 906.7L933.7 910.6L934.4 914.6L935.0 918.5L935.6 922.5L936.2 926.4L936.8 930.4L937.4 934.3L938.0 938.3L938.6 942.3L939.1 946.2L939.7 950.2L940.3 954.1L940.9 958.1L941.4 962.0L942.0 966.0L942.6 970.0L943.1 973.9L943.7 977.9L944.2 981.9L944.7 985.8L945.3 989.8L945.8 993.8L946.3 997.7L946.9 1001.7L947.4 1005.7L947.9 1009.6L948.4 1013.6L948.9 1017.6L949.4 1021.5L949.9 1025.5L950.4 1029.5L950.9 1033.4L951.4 1037.4L951.9 1041.4L952.4 1045.3L952.9 1049.3L953.4 1053.3L953.8 1057.3L954.3 1061.2L954.8 1065.2L955.3 1069.2L955.7 1073.2L956.2 1077.1L956.7 1081.1L957.1 1085.1L957.6 1089.0L958.0 1093.0L958.5 1097.0L958.9 1101.0L959.4 1104.9L959.8 1108.9L960.3 1112.9L960.7 1116.9L961.2 1120.8L961.6 1124.8L962.1 1128.8L962.6 1132.7L963.0 1136.7L963.5 1140.7L963.9 1144.6L964.4 1148.6L964.9 1152.6L965.4 1156.5L965.9 1160.5L966.4 1164.5L966.8 1168.4L967.4 1172.4L967.9 1176.3L968.4 1180.3L968.9 1184.3L969.4 1188.2L970.0 1192.2L970.5 1196.1L971.1 1200.0L971.6 1204.0L972.2 1207.9L972.8 1211.9L973.4 1215.8L974.0 1219.8L974.6 1223.7L975.3 1227.6L975.9 1231.5L976.6 1235.5L977.2 1239.4L977.9 1243.3L978.6 1247.2L979.3 1251.2L980.1 1255.1L980.8 1259.0L981.6 1262.9L982.3 1266.8L983.1 1270.7L983.9 1274.6L984.8 1278.5L985.6 1282.4L986.5 1286.3L987.3 1290.1L988.2 1294.0L989.2 1297.9L990.1 1301.8L991.0 1305.6L992.0 1309.5L993.0 1313.4L994.0 1317.2L995.1 1321.1L996.1 1324.9L997.2 1328.8L998.3 1332.6L999.4 1336.5L1000.6 1340.3L1001.8 1344.1L1003.0 1347.9L1004.2 1351.8L1005.4 1355.6L1006.7 1359.4L1008.0 1363.2L1009.3 1367.0L1010.6 1370.7L1012.0 1374.5L1013.4 1378.3L1014.8 1382.0L1016.2 1385.8L1017.7 1389.5L1019.1 1393.3L1020.7 1397.0L1022.2 1400.7L1023.7 1404.4L1025.3 1408.1L1026.9 1411.8L1028.5 1415.4L1030.1 1419.1L1031.8 1422.7L1033.5 1426.4L1035.2 1430.0L1036.9 1433.6L1038.7 1437.2L1040.5 1440.8L1042.3 1444.3L1044.1 1447.9L1046.0 1451.4L1047.9 1454.9L1049.8 1458.4L1051.7 1461.9L1053.6 1465.4L1055.6 1468.8L1057.6 1472.3L1059.6 1475.7L1061.7 1479.1L1063.8 1482.4L1065.9 1485.8L1068.0 1489.1L1070.2 1492.5L1072.4 1495.8L1074.6 1499.0L1076.9 1502.3L1079.1 1505.5L1081.4 1508.7L1083.8 1511.9L1086.2 1515.1L1088.6 1518.2L1091.0 1521.3L1093.5 1524.4L1096.0 1527.4L1098.5 1530.5L1101.0 1533.5L1103.6 1536.5L1106.3 1539.4L1108.9 1542.3L1111.6 1545.2L1114.4 1548.1L1117.1 1550.9L1120.0 1553.7L1122.8 1556.5L1125.7 1559.2L1128.6 1561.9L1131.5 1564.6L1134.5 1567.3L1137.6 1569.9L1140.6 1572.5L1143.7 1575.0L1146.9 1577.5L1150.0 1580.0L1153.2 1582.4L1156.5 1584.8L1159.7 1587.2L1163.0 1589.5L1166.3 1591.9L1169.7 1594.1L1173.1 1596.4L1176.5 1598.6L1179.9 1600.7L1183.3 1602.8L1186.8 1604.9L1190.3 1607.0L1193.8 1609.0L1197.3 1611.0L1200.8 1612.9L1204.4 1614.9L1207.9 1616.7L1211.5 1618.6L1215.1 1620.4L1218.7 1622.1L1222.3 1623.9L1225.9 1625.6L1229.6 1627.2L1233.2 1628.9L1236.9 1630.4L1240.5 1632.0L1244.2 1633.5L1247.9 1635.1L1251.6 1636.5L1255.3 1638.0L1259.0 1639.4L1262.7 1640.8L1266.4 1642.2L1270.2 1643.5L1273.9 1644.9L1277.7 1646.2L1281.4 1647.5L1285.2 1648.7L1289.0 1650.0L1292.8 1651.2L1296.5 1652.4L1300.3 1653.6L1304.1 1654.8L1307.9 1655.9L1311.7 1657.1L1315.5 1658.2L1319.4 1659.3L1323.2 1660.4L1327.0 1661.5L1330.8 1662.6L1334.7 1663.7L1338.5 1664.8L1342.3 1665.8L1346.2 1666.9L1350.0 1667.9L1353.9 1669.0L1357.7 1670.0L1361.6 1671.0L1365.4 1672.0L1369.3 1673.1L1373.2 1674.1L1377.0 1675.0L1380.9 1676.0L1384.8 1677.0L1388.6 1678.0L1392.5 1678.9L1396.4 1679.9L1400.3 1680.8L1404.1 1681.8L1408.0 1682.7L1411.9 1683.6L1415.8 1684.5L1419.7 1685.5L1423.6 1686.4L1427.5 1687.3L1431.4 1688.1L1435.3 1689.0L1439.2 1689.9L1443.1 1690.8L1447.0 1691.6L1450.9 1692.5L1454.8 1693.3L1458.7 1694.2L1462.6 1695.0L1466.6 1695.8L1470.5 1696.6L1474.4 1697.4L1478.3 1698.2L1482.2 1699.0L1486.2 1699.8L1490.1 1700.6L1494.0 1701.4L1497.9 1702.2L1501.9 1702.9L1505.8 1703.7L1509.7 1704.4L1513.7 1705.2L1517.6 1705.9L1521.5 1706.6L1525.5 1707.4L1529.4 1708.1L1533.3 1708.8L1537.3 1709.5L1541.2 1710.2L1545.1 1710.9L1549.1 1711.6L1553.0 1712.3L1557.0 1712.9L1560.9 1713.6L1564.9 1714.3L1568.8 1714.9L1572.7 1715.6L1576.7 1716.2L1580.6 1716.9L1584.6 1717.5L1588.5 1718.1L1592.5 1718.8L1596.4 1719.4L1600.4 1720.0L1604.3 1720.6L1608.3 1721.2L1612.2 1721.8L1616.2 1722.4L1620.1 1723.0L1624.1 1723.6L1628.0 1724.1L1632.0 1724.7L1635.9 1725.3L1639.9 1725.8L1643.8 1726.4L1647.8 1727.0L1651.7 1727.5L1655.7 1728.1L1659.6 1728.6L1663.6 1729.1L1667.6 1729.7L1671.5 1730.2L1675.5 1730.7L1679.4 1731.2L1683.4 1731.8L1687.4 1732.3L1691.3 1732.8L1695.3 1733.3L1699.2 1733.8L1703.2 1734.3L1707.2 1734.8L1711.1 1735.3L1715.1 1735.8L1719.0 1736.3L1723.0 1736.7L1727.0 1737.2L1730.9 1737.7L1734.9 1738.2L1738.9 1738.6L1742.8 1739.1L1746.8 1739.6L1750.7 1740.0L1754.7 1740.5L1758.7 1740.9L1762.6 1741.4L1766.6 1741.9L1770.6 1742.3L1774.5 1742.7L1778.5 1743.2L1782.5 1743.6L1786.4 1744.1L1790.4 1744.5L1794.4 1744.9L1798.4 1745.4L1802.3 1745.8L1806.3 1746.2L1810.3 1746.7L1814.2 1747.1L1818.2 1747.5L1822.2 1747.9L1826.1 1748.4L1830.1 1748.8L1834.1 1749.2L1838.0 1749.6L1842.0 1750.0L1846.0 1750.5L1850.0 1750.9L1853.9 1751.3L1857.9 1751.7L1861.9 1752.1L1865.8 1752.5L1869.8 1752.9L1873.8 1753.3L1877.8 1753.7L1881.7 1754.2L1885.7 1754.6L1889.7 1755.0L1893.7 1755.4L1897.6 1755.8L1901.6 1756.2L1905.6 1756.6L1909.5 1757.0L1913.5 1757.4L1917.5 1757.8L1921.5 1758.2L1925.4 1758.6L1929.4 1759.0L1933.4 1759.4L1937.4 1759.8L1941.3 1760.3L1945.3 1760.7L1949.3 1761.1L1953.3 1761.5L1957.2 1761.9L1961.2 1762.3L1965.2 1762.7L1969.1 1763.1L1973.1 1763.5L1977.1 1764.0L1981.1 1764.4L1985.0 1764.8L1989.0 1765.2L1993.0 1765.6L1997.0 1766.1L2000.9 1766.5L2004.9 1766.9L2008.9 1767.3L2012.9 1767.8L2016.8 1768.2L2020.8 1768.6L2024.8 1769.0L2028.7 1769.5L2032.7 1769.9L2036.7 1770.4L2040.7 1770.8L2044.6 1771.2L2048.6 1771.7L2052.6 1772.1L2056.5 1772.6L2060.5 1773.0L2064.5 1773.5L2068.5 1773.9L2072.4 1774.4L2076.4 1774.9L2080.4 1775.3L2084.3 1775.8L2088.3 1776.3L2092.3 1776.7L2096.3 1777.2L2100.2 1777.7L2104.2 1778.2L2108.2 1778.7L2112.1 1779.2"/>
<path stroke="#4A6DB0" d="M325.6 136.6L329.3 138.0L332.9 139.6L336.5 141.2L340.1 142.9L343.6 144.8L347.1 146.6L350.5 148.6L353.9 150.6L357.3 152.7L360.7 154.9L364.0 157.1L367.3 159.3L370.6 161.6L373.9 163.9L377.2 166.2L380.5 168.5L383.8 170.8L387.0 173.2L390.3 175.5L393.6 177.8L396.9 180.1L400.2 182.4L403.5 184.6L406.8 186.8L410.2 188.9L413.5 191.0L416.9 193.0L420.4 195.0L423.8 196.9L427.3 198.7L430.8 200.4L434.4 202.1L438.0 203.6L441.6 205.0L445.3 206.4L449.0 207.6L452.8 208.8L456.5 209.9L460.3 211.0L464.2 212.0L468.0 212.9L471.9 213.7L475.7 214.5L479.6 215.2L483.5 215.9L487.5 216.6L491.4 217.2L495.3 217.8L499.3 218.3L503.2 218.8L507.1 219.3L511.1 219.8L515.0 220.2L518.9 220.7L522.8 221.1L526.8 221.5L530.7 221.9L534.6 222.3L538.5 222.7L542.4 223.1L546.4 223.5L550.3 223.8L554.2 224.2L558.1 224.5L562.1 224.8L566.0 225.2L570.0 225.5L574.0 225.8L578.0 226.2L581.9 226.5L585.9 226.8L590.0 227.2L594.0 227.5L598.0 227.8L602.1 228.2L606.2 228.5L610.3 228.9L614.4 229.2L618.5 229.6L622.6 230.0L626.7 230.4L630.8 230.9L635.0 231.3L639.1 231.8L643.2 232.4L647.3 233.0L651.3 233.6L655.4 234.2L659.4 234.9L663.4 235.7L667.4 236.5L671.4 237.4L675.3 238.3L679.2 239.3L683.1 240.3L686.9 241.4L690.7 242.6L694.5 243.8L698.2 245.2L701.8 246.6L705.4 248.1L709.0 249.7L712.4 251.3L715.9 253.1L719.2 255.0L722.6 256.9L725.8 259.0L729.0 261.1L732.1 263.4L735.1 265.8L738.1 268.2L740.9 270.8L743.8 273.5L746.5 276.3L749.2 279.1L751.8 282.0L754.4 285.0L756.9 288.1L759.3 291.2L761.7 294.4L764.1 297.6L766.3 300.9L768.6 304.2L770.8 307.6L772.9 311.0L775.0 314.5L777.1 317.9L779.1 321.4L781.0 324.9L783.0 328.4L784.9 331.9L786.7 335.5L788.6 339.1L790.3 342.6L792.1 346.2L793.8 349.8L795.5 353.4L797.1 357.1L798.8 360.7L800.4 364.4L801.9 368.1L803.4 371.7L804.9 375.4L806.4 379.1L807.9 382.9L809.3 386.6L810.7 390.3L812.1 394.1L813.4 397.8L814.7 401.6L816.1 405.4L817.3 409.2L818.6 412.9L819.9 416.7L821.1 420.6L822.3 424.4L823.5 428.2L824.7 432.0L825.9 435.8L827.0 439.7L828.1 443.5L829.3 447.4L830.4 451.2L831.5 455.1L832.6 458.9L833.7 462.8L834.8 466.7L835.8 470.5L836.9 474.4L838.0 478.3L839.0 482.1L840.1 486.0L841.1 489.9L842.2 493.8L843.2 497.6L844.3 501.5L845.3 505.4L846.4 509.3L847.4 513.1L848.5 517.0L849.5 520.9L850.6 524.7L851.6 528.6L852.7 532.5L853.7 536.4L854.8 540.2L855.8 544.1L856.8 548.0L857.9 551.8L858.9 555.7L860.0 559.6L861.0 563.4L862.0 567.3L863.1 571.2L864.1 575.0L865.2 578.9L866.2 582.7L867.2 586.6L868.3 590.5L869.3 594.3L870.3 598.2L871.3 602.1L872.4 605.9L873.4 609.8L874.4 613.7L875.4 617.5L876.4 621.4L877.4 625.3L878.4 629.1L879.4 633.0L880.4 636.9L881.4 640.7L882.4 644.6L883.4 648.5L884.4 652.3L885.4 656.2L886.4 660.1L887.4 663.9L888.3 667.8L889.3 671.7L890.3 675.5L891.3 679.4L892.2 683.3L893.2 687.1L894.1 691.0L895.1 694.9L896.0 698.8L897.0 702.6L897.9 706.5L898.8 710.4L899.8 714.3L900.7 718.1L901.6 722.0L902.5 725.9L903.4 729.8L904.3 733.7L905.2 737.5L906.1 741.4L907.0 745.3L907.9 749.2L908.8 753.1L909.6 757.0L910.5 760.8L911.4 764.7L912.2 768.6L913.1 772.5L913.9 776.4L914.7 780.3L915.6 784.2L916.4 788.1L917.2 792.0L918.0 795.9L918.8 799.8L919.6 803.7L920.4 807.6L921.2 811.5L922.0 815.4L922.7 819.3L923.5 823.2L924.3 827.1L925.0 831.1L925.7 835.0L926.5 838.9L927.2 842.8L927.9 846.7L928.6 850.6L929.3 854.6L930.0 858.5L930.7 862.4L931.4 866.4L932.1 870.3L932.7 874.2L933.4 878.2L934.0 882.1L934.7 886.0L935.3 890.0L935.9 893.9L936.5 897.9L937.1 901.8L937.7 905.8L938.3 909.7L938.9 913.7L939.5 917.6L940.0 921.6L940.6 925.5L941.1 929.5L941.6 933.5L942.2 937.4L942.7 941.4L943.2 945.4L943.7 949.3L944.2 953.3L944.7 957.3L945.1 961.3L945.6 965.3L946.1 969.2L946.5 973.2L947.0 977.2L947.4 981.2L947.9 985.2L948.3 989.2L948.8 993.2L949.2 997.1L949.6 1001.1L950.1 1005.1L950.5 1009.1L950.9 1013.1L951.3 1017.1L951.7 1021.1L952.2 1025.1L952.6 1029.1L953.0 1033.1L953.4 1037.1L953.8 1041.1L954.2 1045.1L954.7 1049.0L955.1 1053.0L955.5 1057.0L955.9 1061.0L956.3 1065.0L956.8 1069.0L957.2 1073.0L957.6 1077.0L958.0 1081.0L958.5 1085.0L958.9 1088.9L959.4 1092.9L959.8 1096.9L960.3 1100.9L960.7 1104.9L961.2 1108.9L961.7 1112.8L962.2 1116.8L962.6 1120.8L963.1 1124.7L963.6 1128.7L964.1 1132.7L964.7 1136.7L965.2 1140.6L965.7 1144.6L966.3 1148.5L966.8 1152.5L967.4 1156.4L967.9 1160.4L968.5 1164.3L969.1 1168.3L969.7 1172.2L970.3 1176.2L971.0 1180.1L971.6 1184.1L972.2 1188.0L972.9 1191.9L973.6 1195.8L974.3 1199.8L975.0 1203.7L975.7 1207.6L976.4 1211.5L977.2 1215.4L977.9 1219.3L978.7 1223.2L979.5 1227.1L980.3 1231.0L981.1 1234.9L982.0 1238.8L982.8 1242.6L983.7 1246.5L984.6 1250.4L985.5 1254.2L986.4 1258.1L987.4 1261.9L988.3 1265.8L989.3 1269.6L990.3 1273.5L991.3 1277.3L992.4 1281.1L993.5 1285.0L994.5 1288.8L995.7 1292.6L996.8 1296.4L997.9 1300.2L999.1 1304.0L1000.3 1307.8L1001.6 1311.5L1002.8 1315.3L1004.1 1319.0L1005.5 1322.8L1006.8 1326.5L1008.2 1330.2L1009.6 1334.0L1011.0 1337.7L1012.5 1341.4L1014.0 1345.0L1015.6 1348.7L1017.2 1352.4L1018.8 1356.0L1020.4 1359.6L1022.1 1363.3L1023.8 1366.9L1025.6 1370.4L1027.4 1374.0L1029.2 1377.6L1031.1 1381.1L1033.0 1384.7L1034.9 1388.2L1036.9 1391.7L1038.9 1395.2L1041.0 1398.6L1043.0 1402.1L1045.2 1405.5L1047.3 1408.9L1049.5 1412.3L1051.7 1415.7L1053.9 1419.0L1056.2 1422.3L1058.5 1425.6L1060.8 1428.9L1063.2 1432.2L1065.5 1435.4L1068.0 1438.6L1070.4 1441.8L1072.9 1445.0L1075.4 1448.2L1077.9 1451.3L1080.4 1454.4L1083.0 1457.4L1085.6 1460.5L1088.2 1463.5L1090.9 1466.5L1093.5 1469.5L1096.2 1472.4L1098.9 1475.3L1101.7 1478.2L1104.4 1481.1L1107.2 1483.9L1110.0 1486.8L1112.9 1489.6L1115.7 1492.3L1118.6 1495.1L1121.5 1497.8L1124.4 1500.5L1127.4 1503.2L1130.4 1505.8L1133.3 1508.4L1136.3 1511.0L1139.4 1513.6L1142.4 1516.1L1145.5 1518.6L1148.6 1521.1L1151.7 1523.6L1154.8 1526.1L1158.0 1528.5L1161.1 1530.9L1164.3 1533.3L1167.5 1535.6L1170.7 1537.9L1173.9 1540.2L1177.2 1542.5L1180.5 1544.8L1183.8 1547.0L1187.1 1549.2L1190.4 1551.4L1193.7 1553.5L1197.1 1555.7L1200.4 1557.8L1203.8 1559.8L1207.2 1561.9L1210.6 1563.9L1214.1 1565.9L1217.5 1567.9L1221.0 1569.9L1224.4 1571.8L1227.9 1573.8L1231.4 1575.6L1234.9 1577.5L1238.5 1579.4L1242.0 1581.2L1245.6 1583.0L1249.1 1584.7L1252.7 1586.5L1256.3 1588.2L1259.9 1589.9L1263.5 1591.6L1267.1 1593.3L1270.7 1594.9L1274.4 1596.5L1278.0 1598.1L1281.7 1599.7L1285.4 1601.2L1289.0 1602.7L1292.7 1604.2L1296.4 1605.7L1300.1 1607.1L1303.9 1608.6L1307.6 1610.0L1311.3 1611.4L1315.1 1612.8L1318.8 1614.1L1322.6 1615.5L1326.3 1616.8L1330.1 1618.1L1333.9 1619.4L1337.7 1620.7L1341.5 1621.9L1345.3 1623.2L1349.1 1624.4L1352.9 1625.6L1356.7 1626.8L1360.6 1628.0L1364.4 1629.1L1368.2 1630.3L1372.1 1631.4L1375.9 1632.6L1379.8 1633.7L1383.6 1634.8L1387.5 1635.9L1391.3 1637.0L1395.2 1638.0L1399.1 1639.1L1403.0 1640.2L1406.8 1641.2L1410.7 1642.2L1414.6 1643.3L1418.5 1644.3L1422.4 1645.3L1426.3 1646.3L1430.2 1647.3L1434.1 1648.3L1437.9 1649.3L1441.8 1650.2L1445.7 1651.2L1449.6 1652.2L1453.5 1653.1L1457.5 1654.1L1461.4 1655.1L1465.3 1656.0L1469.2 1657.0L1473.1 1657.9L1477.0 1658.8L1480.9 1659.8L1484.8 1660.7L1488.7 1661.7L1492.6 1662.6L1496.5 1663.5L1500.4 1664.5L1504.3 1665.4L1508.1 1666.3L1512.0 1667.3L1515.9 1668.2L1519.8 1669.1L1523.7 1670.0L1527.6 1670.9L1531.5 1671.9L1535.4 1672.8L1539.3 1673.7L1543.2 1674.6L1547.1 1675.5L1551.0 1676.4L1554.9 1677.3L1558.8 1678.2L1562.7 1679.0L1566.6 1679.9L1570.5 1680.8L1574.4 1681.7L1578.3 1682.5L1582.2 1683.4L1586.1 1684.3L1589.9 1685.1L1593.8 1686.0L1597.7 1686.8L1601.6 1687.7L1605.5 1688.5L1609.4 1689.3L1613.3 1690.1L1617.2 1691.0L1621.1 1691.8L1625.0 1692.6L1628.9 1693.4L1632.8 1694.2L1636.7 1695.0L1640.6 1695.8L1644.6 1696.5L1648.5 1697.3L1652.4 1698.1L1656.3 1698.8L1660.2 1699.6L1664.1 1700.3L1668.0 1701.1L1671.9 1701.8L1675.8 1702.5L1679.7 1703.3L1683.7 1704.0L1687.6 1704.7L1691.5 1705.4L1695.4 1706.1L1699.3 1706.8L1703.2 1707.4L1707.2 1708.1L1711.1 1708.8L1715.0 1709.4L1718.9 1710.1L1722.9 1710.7L1726.8 1711.3L1730.7 1711.9L1734.7 1712.5L1738.6 1713.2L1742.5 1713.7L1746.5 1714.3L1750.4 1714.9L1754.4 1715.5L1758.3 1716.0L1762.3 1716.6L1766.2 1717.1L1770.2 1717.6L1774.1 1718.2L1778.1 1718.7L1782.0 1719.2L1786.0 1719.7L1789.9 1720.1L1793.9 1720.6L1797.9 1721.1L1801.8 1721.5L1805.8 1722.0L1809.8 1722.4L1813.8 1722.8L1817.7 1723.3L1821.7 1723.7L1825.7 1724.1L1829.7 1724.5L1833.7 1724.9L1837.6 1725.2L1841.6 1725.6L1845.6 1726.0L1849.6 1726.4L1853.6 1726.7L1857.6 1727.1L1861.6 1727.4L1865.5 1727.8L1869.5 1728.1L1873.5 1728.5L1877.5 1728.8L1881.5 1729.2L1885.5 1729.5L1889.5 1729.8L1893.5 1730.1L1897.5 1730.5L1901.5 1730.8L1905.5 1731.1L1909.5 1731.5L1913.5 1731.8L1917.5 1732.1L1921.5 1732.4L1925.5 1732.8L1929.5 1733.1L1933.4 1733.4L1937.4 1733.7L1941.4 1734.1L1945.4 1734.4L1949.4 1734.7L1953.4 1735.1L1957.4 1735.4L1961.4 1735.8L1965.4 1736.1L1969.4 1736.5L1973.4 1736.8L1977.4 1737.2L1981.3 1737.5L1985.3 1737.9L1989.3 1738.3L1993.3 1738.7L1997.3 1739.1L2001.3 1739.5L2005.2 1739.9L2009.2 1740.3L2013.2 1740.7L2017.2 1741.1L2021.1 1741.5L2025.1 1742.0L2029.1 1742.4L2033.1 1742.9L2037.0 1743.3L2041.0 1743.8L2044.9 1744.3L2048.9 1744.8L2052.9 1745.3L2056.8 1745.8L2060.8 1746.3L2064.7 1746.9L2068.7 1747.4L2072.6 1748.0L2076.5 1748.6L2080.5 1749.1L2084.4 1749.7L2088.4 1750.4L2092.3 1751.0L2096.2 1751.6L2100.1 1752.3L2104.1 1752.9L2108.0 1753.6L2111.9 1754.3"/>
<path stroke="#000000" stroke-dasharray="38 16" stroke-dashoffset="0" d="M335.9 2198C338.7 2195.7 348.2 2188 352.8 2184.3C357.4 2180.6 358.1 2179.1 363.4 2175.9C368.7 2172.7 376.1 2169.2 384.5 2165C392.9 2160.8 405.2 2154.7 414 2150.5C422.8 2146.3 428.1 2142.3 437.3 2140C446.5 2137.7 460.9 2136.6 469 2136.8C477.1 2137 477.8 2137.7 485.9 2141C494 2144.3 509.8 2152.4 517.5 2156.8C525.2 2161.2 524.5 2162.5 532.3 2167.4C540 2172.3 555.5 2182 564 2186.4C572.5 2190.8 576.3 2191.5 583 2193.8C589.7 2196.1 596.7 2198.5 604.1 2200.1C611.5 2201.7 619.9 2202.6 627.3 2203.3C634.7 2204 640.8 2204.9 648.5 2204.4C656.2 2203.9 666.6 2201.6 673.8 2200.1C681 2198.6 684.1 2200.2 691.6 2195.2C699.1 2190.2 712.3 2178.4 718.8 2170C725.3 2161.6 726.5 2154.4 730.4 2144.7C734.3 2135 738.1 2125.4 742 2111.8C745.9 2098.2 750.1 2079.5 753.7 2063.3C757.3 2047.1 760.3 2031 763.4 2014.8C766.5 1998.6 769.5 1984.1 772.1 1966.3C774.7 1948.5 777.1 1925.9 778.9 1908.2C780.7 1890.5 780.8 1880 782.8 1860C784.8 1840 788.4 1813.1 791 1788.4C793.6 1763.7 795.7 1735.2 798.7 1711.8C801.7 1688.4 805.9 1664.2 808.9 1648C811.9 1631.8 813.8 1623.3 816.5 1614.8C819.2 1606.3 823.9 1599.5 825.4 1597C826.9 1594.5 823.3 1596.5 825.4 1599.5C827.5 1602.5 833.1 1609.3 838.2 1614.8C843.3 1620.3 851 1628.9 856.1 1632.7C861.2 1636.5 864.6 1638.2 868.8 1637.8C873.1 1637.4 877.4 1634.8 881.6 1630.1C885.9 1625.4 890.9 1617.3 894.3 1609.7C897.7 1602.1 899.5 1594.8 902 1584.2C904.5 1573.6 907.5 1558.7 909.6 1545.9C911.7 1533.1 913.1 1522.5 914.8 1507.6C916.5 1492.7 918.4 1471.5 919.9 1456.6C921.4 1441.7 922.5 1431.2 923.7 1418.3C924.9 1405.3 925.9 1395 927 1378.9C928.1 1362.8 929.5 1340.6 930.4 1321.5C931.4 1302.4 931.9 1283.2 932.7 1264.1C933.5 1245 934.2 1225.8 935 1206.7C935.8 1187.6 936.5 1168.5 937.3 1149.3C938.1 1130.1 939 1110.9 939.6 1091.8C940.2 1072.7 940.4 1056.2 940.8 1034.4C941.2 1012.6 941.5 991.7 942 961C942.5 930.3 943 886.8 944 850C945 813.2 946.8 780.7 948 740C949.2 699.3 950.6 638.5 951.4 606C952.2 573.5 952.4 566.6 952.9 545C953.4 523.4 954.1 497.1 954.5 476.5C954.9 455.9 955.2 440.1 955.5 421.4C955.8 402.7 956.1 382.3 956.5 364.3C956.9 346.3 957 330.7 957.6 313.3C958.2 295.9 959 276.3 960 260C961 243.7 962.5 218.6 963.7 215.3C964.9 212 966 227.6 967 240C968 252.4 969 274.4 969.8 290C970.6 305.6 971.1 316.2 971.8 333.7C972.5 351.2 973.2 372.8 973.9 394.9C974.6 417 975.5 440.4 975.9 466.3C976.3 492.2 976.1 525.9 976.5 550C976.9 574.1 977.6 587.4 978 611.2C978.4 635 978.7 665.7 979 692.9C979.3 720.1 979.7 750.7 980 774.5C980.3 798.3 980.5 808.5 981 835.7C981.5 862.9 982.4 902.1 983.1 937.8C983.8 973.5 984.4 1014.6 985 1050C985.6 1085.4 986.1 1116.7 986.7 1150C987.3 1183.3 987.9 1216.7 988.5 1250C989.1 1283.3 989.8 1316.7 990.5 1350C991.2 1383.3 992.2 1421.7 993 1450C993.8 1478.3 994.6 1495 995.5 1520C996.4 1545 997.6 1573.9 998.3 1600C999 1626.1 999.1 1646.7 999.5 1676.5C999.9 1706.3 999.9 1748.8 1000.8 1778.6C1001.6 1808.4 1003.3 1833.8 1004.6 1855.1C1005.9 1876.3 1007 1889.1 1008.5 1906.1C1010 1923.1 1011.1 1942.2 1013.6 1957.1C1016.1 1972 1019.1 1985.6 1023.8 1995.4C1028.5 2005.2 1033.1 2010.3 1041.6 2015.8C1050.1 2021.3 1065.9 2025.2 1074.8 2028.6C1083.7 2032 1088.8 2032.4 1095.2 2036.2C1101.6 2040 1105.9 2045.5 1113.1 2051.5C1120.3 2057.4 1128 2064.2 1138.6 2071.9C1149.2 2079.7 1161.5 2090.9 1176.6 2098C1191.7 2105.1 1214.3 2113.5 1229.2 2114.5C1244.1 2115.5 1258.3 2103.9 1266.2 2103.9C1274.1 2103.9 1272.3 2109.2 1276.7 2114.5C1281.1 2119.8 1287.3 2131 1292.6 2135.6C1297.9 2140.2 1301.4 2140.4 1308.4 2142.2C1315.4 2144 1326 2145.1 1334.8 2146.2C1343.6 2147.3 1352.4 2147.5 1361.2 2148.8C1370 2150.1 1378.8 2152.6 1387.6 2154.1C1396.4 2155.6 1405.2 2156.5 1414 2158C1422.8 2159.5 1431.6 2161.5 1440.4 2163.3C1449.2 2165.1 1458 2166.8 1466.8 2168.6C1475.6 2170.4 1484.4 2172.1 1493.2 2173.9C1502 2175.7 1510.8 2177.4 1519.6 2179.2C1528.4 2180.9 1532.8 2182.7 1546 2184.4C1559.2 2186.2 1581.5 2188.3 1598.8 2189.7C1616.1 2191.1 1633 2192.5 1650 2193C1667 2193.5 1682.5 2192.5 1700.8 2192.9C1719.1 2193.3 1743 2194.1 1760 2195.6C1777 2197.1 1786 2199.8 1803.1 2201.8C1820.1 2203.8 1843.4 2206.2 1862.3 2207.7C1881.2 2209.2 1898.2 2210.5 1916.2 2210.9C1934.2 2211.3 1952 2210.7 1970 2209.9C1988 2209.2 2006 2207.8 2023.9 2206.4C2041.9 2205.1 2063 2203.2 2077.7 2201.8C2092.4 2200.5 2106.3 2198.9 2112 2198.3"/>
<path stroke="#6EA552" stroke-dasharray="38 16" stroke-dashoffset="0" d="M333.8 2201.2C338.7 2200.3 351.4 2196.4 363.4 2195.9C375.4 2195.4 389.8 2197.7 405.6 2198C421.4 2198.3 440.8 2197.8 458.4 2198C476 2198.2 493.6 2198.2 511.2 2199.1C528.8 2200 546.4 2202.8 564 2203.3C581.6 2203.8 601 2203.5 616.8 2202.3C632.6 2201.1 648.5 2198.4 659 2195.9C669.5 2193.4 673.9 2190.1 680 2187.4C686.1 2184.7 690.3 2183.6 695.5 2179.7C700.7 2175.8 705.2 2173.1 711 2164.1C716.8 2155.1 724.6 2139 730.4 2125.4C736.2 2111.8 741 2097.9 745.9 2082.7C750.8 2067.5 755.6 2050.4 759.5 2034.2C763.4 2018 766.3 2002.8 769.2 1985.7C772.1 1968.6 774.7 1950.8 777 1931.4C779.3 1912 780.8 1893.2 782.8 1869.4C784.8 1845.6 786.9 1814.7 789.3 1788.4C791.7 1762.1 794 1735.2 797 1711.8C800 1688.4 804.2 1664.2 807.2 1648C810.2 1631.8 812.2 1623.3 814.8 1614.8C817.3 1606.3 821.1 1599.5 822.5 1597C823.9 1594.5 820.8 1596.5 823 1599.5C825.2 1602.5 830.7 1609.3 835.8 1614.8C840.9 1620.3 848.6 1628.9 853.7 1632.7C858.8 1636.5 862.1 1638.2 866.4 1637.8C870.6 1637.4 874.9 1634.8 879.2 1630.1C883.4 1625.4 888.5 1617.3 891.9 1609.7C895.3 1602.1 897 1594.8 899.6 1584.2C902.1 1573.6 905.1 1558.7 907.2 1545.9C909.3 1533.1 910.7 1522.5 912.4 1507.6C914.1 1492.7 916 1471.5 917.5 1456.6C919 1441.7 920.1 1431.2 921.3 1418.3C922.5 1405.3 923.5 1395 924.6 1378.9C925.7 1362.8 927 1340.6 928 1321.5C929 1302.4 929.5 1283.2 930.3 1264.1C931.1 1245 931.8 1225.8 932.6 1206.7C933.4 1187.6 934.1 1168.5 934.9 1149.3C935.7 1130.1 936.6 1110.9 937.2 1091.8C937.8 1072.7 937.7 1056.2 938.4 1034.4C939.1 1012.6 940.4 991.7 941.5 961C942.6 930.3 943.8 886.8 945 850C946.2 813.2 947.9 780.7 949 740C950.1 699.3 950.8 638.5 951.4 606C952 573.5 952.4 566.6 952.9 545C953.4 523.4 954 497.1 954.5 476.5C955 455.9 955.6 440.1 956 421.4C956.4 402.7 956.6 382.3 957 364.3C957.4 346.3 957.7 332.4 958.5 313.3C959.3 294.2 960.5 270.6 962 250C963.5 229.4 966.2 193.1 967.8 189.8C969.4 186.5 970.5 213.3 971.5 230C972.5 246.7 972.8 272.7 973.5 290C974.2 307.3 974.9 316.2 975.5 333.7C976.1 351.2 976.4 372.8 977 394.9C977.6 417 978.2 440.4 979 466.3C979.8 492.2 981.3 522.5 982 550C982.7 577.5 982.8 603.8 983.1 631C983.4 658.2 983.4 689.1 983.6 713C983.8 736.9 983.7 755.7 984.1 774.5C984.5 793.3 985.6 802.2 986.1 826C986.6 849.8 986.9 879.7 987.1 917C987.3 954.3 987.4 1011.2 987.5 1050C987.6 1088.8 987.6 1116.7 988 1150C988.4 1183.3 989.2 1216.7 989.8 1250C990.4 1283.3 990.8 1316.7 991.5 1350C992.2 1383.3 993.1 1416.7 994 1450C994.9 1483.3 996 1518.3 997 1550C998 1581.7 999.1 1614.7 1000 1640C1000.9 1665.3 1001.1 1678.9 1002.1 1702C1003.1 1725.1 1004.4 1753.1 1005.9 1778.6C1007.4 1804.1 1009.1 1831.7 1011 1855.1C1012.9 1878.5 1014.9 1900.6 1017.4 1918.9C1019.9 1937.2 1022.3 1953.3 1026.3 1964.8C1030.3 1976.3 1035.6 1982.3 1041.6 1987.8C1047.5 1993.3 1053.5 1993.3 1062 1998C1070.5 2002.7 1084.2 2009.8 1092.7 2015.8C1101.2 2021.8 1105.4 2027.3 1113.1 2033.7C1120.8 2040.1 1132.4 2048.7 1138.6 2054.1C1144.8 2059.5 1144.6 2060.3 1150 2066C1155.4 2071.7 1164.5 2082.2 1171.1 2088.1C1177.7 2094 1182.1 2096.9 1189.6 2101.3C1197.1 2105.7 1207.6 2112.3 1216 2114.5C1224.4 2116.7 1231.9 2116.7 1239.8 2114.5C1247.7 2112.3 1257.8 2102.2 1263.5 2101.3C1269.2 2100.4 1269.7 2104.4 1274.1 2109.2C1278.5 2114 1285.1 2124.6 1289.9 2130.3C1294.7 2136 1295.6 2139.8 1303.1 2143.5C1310.6 2147.2 1325.1 2150.6 1334.8 2152.8C1344.5 2155 1350.2 2154.9 1361.2 2156.7C1372.2 2158.4 1387.6 2161.1 1400.8 2163.3C1414 2165.5 1425 2167 1440.4 2169.9C1455.8 2172.8 1475.6 2177.6 1493.2 2180.5C1510.8 2183.4 1528.4 2185.3 1546 2187.1C1563.6 2188.8 1581.5 2189.9 1598.8 2191C1616.1 2192.1 1633 2193.6 1650 2193.7C1667 2193.8 1685.6 2191.9 1700.8 2191.5C1716 2191.1 1727.8 2190.2 1741.2 2191.5C1754.7 2192.8 1765.8 2196 1781.5 2199.6C1797.2 2203.2 1817.4 2210.4 1835.4 2213.1C1853.4 2215.8 1871.3 2215.4 1889.3 2215.8C1907.2 2216.2 1925.2 2216 1943.1 2215.8C1961 2215.6 1979 2215.5 1996.9 2214.4C2014.9 2213.3 2031.6 2211.5 2050.8 2209C2070 2206.5 2101.8 2201.2 2112 2199.6"/>
<path stroke="#D98450" stroke-dasharray="38 16" stroke-dashoffset="0" d="M329.6 2106.2C331.4 2107.1 336.6 2111.2 340.1 2111.4C343.6 2111.6 346.6 2108.6 350.7 2107.2C354.8 2105.8 360.1 2103.7 365 2103C369.9 2102.3 375.3 2102.1 380.3 2103C385.3 2103.9 390.4 2106 395 2108.3C399.6 2110.6 403.1 2112.5 407.7 2116.7C412.3 2120.9 417.9 2128 422.5 2133.6C427.1 2139.2 431 2145.2 435.2 2150.5C439.4 2155.8 443.6 2160.4 447.8 2165.3C452 2170.2 455.9 2175.4 460.5 2180C465.1 2184.6 470.4 2188.8 475.3 2192.7C480.2 2196.6 484.1 2200.5 490.1 2203.3C496.1 2206.1 504.2 2208.2 511.2 2209.6C518.2 2211 525.3 2211.6 532.3 2211.8C539.3 2212 546.3 2211.4 553.4 2210.7C560.5 2210 565.8 2209.4 574.6 2207.5C583.4 2205.6 595.7 2203 606.2 2199.1C616.8 2195.2 629.1 2188.5 637.9 2184.3C646.7 2180.1 652 2178 659 2173.7C666 2169.4 672.6 2167 680 2158.3C687.4 2149.6 696.5 2135.7 703.3 2121.5C710.1 2107.3 715.2 2090.1 720.7 2073C726.2 2055.9 730.7 2036.5 736.2 2018.7C741.7 2000.9 748.5 1984.1 753.7 1966.3C758.9 1948.5 763.8 1928.2 767.3 1912C770.8 1895.8 772.7 1883.1 775 1869.4C777.3 1855.7 779.2 1843.5 781 1830C782.8 1816.5 783.9 1808.1 786 1788.4C788.1 1768.7 790.7 1735.2 793.7 1711.8C796.7 1688.4 800.9 1664.2 803.9 1648C806.9 1631.8 809 1623.3 811.5 1614.8C814 1606.3 816.5 1600 819.2 1597C821.9 1594 823.4 1602 827.8 1596.9C832.2 1591.8 840.6 1576.1 845.7 1566.3C850.8 1556.5 854.7 1548 858.5 1538.2C862.3 1528.4 865.3 1519.1 868.7 1507.6C872.1 1496.1 875.9 1482.1 878.9 1469.3C881.9 1456.5 883.9 1448 886.5 1431C889.1 1414 891.5 1387.6 894.4 1367.4C897.2 1347.2 900.9 1329.1 903.6 1310C906.3 1290.9 908.2 1271.7 910.5 1252.6C912.8 1233.5 915.5 1214.3 917.4 1195.2C919.3 1176.1 920.5 1156.9 922 1137.8C923.5 1118.7 925.1 1099.5 926.6 1080.4C928.1 1061.3 930.1 1043.1 931.2 1023C932.3 1002.9 932.2 974.2 933.2 960C934.2 945.8 935.8 961.9 937.1 937.8C938.4 913.7 939.8 849.3 941.2 815.3C942.6 781.3 943.9 764.3 945.3 733.7C946.7 703.1 947.2 653.1 949.4 631.6C951.6 610.1 956.2 603.3 958.6 605C961 606.7 962.2 620.3 963.7 641.8C965.2 663.2 966.8 704.8 967.8 733.7C968.8 762.6 968.9 788.1 969.8 815.3C970.6 842.5 971.9 874.5 972.9 897C973.9 919.5 974.4 926.2 975.5 950C976.6 973.8 978.4 1011.7 979.6 1040C980.8 1068.3 981.7 1092.3 982.7 1120C983.7 1147.7 984.7 1176 985.7 1206C986.7 1236 987.6 1267.7 988.5 1300C989.4 1332.3 990.1 1370 991 1400C991.9 1430 993 1453.3 994 1480C995 1506.7 995.9 1533.6 997 1560C998.1 1586.4 998.5 1610.4 1000.8 1638.3C1003.1 1666.2 1007.6 1704.2 1011 1727.6C1014.4 1751 1017.8 1761.6 1021.2 1778.6C1024.6 1795.6 1028 1815.6 1031.4 1829.6C1034.8 1843.6 1037.3 1853 1041.6 1862.8C1045.8 1872.6 1051.4 1878.9 1056.9 1888.3C1062.4 1897.7 1069.7 1907.4 1074.8 1918.9C1079.9 1930.4 1082.9 1945.2 1087.6 1957.1C1092.3 1969 1097.8 1979.7 1102.9 1990.3C1108 2000.9 1113.1 2011.6 1118.2 2020.9C1123.3 2030.2 1127.5 2037.4 1133.5 2046.4C1139.5 2055.4 1147.1 2066.1 1153.9 2075C1160.7 2083.9 1166.2 2091.4 1174.3 2100C1182.4 2108.6 1194.5 2121.3 1202.8 2126.4C1211.1 2131.5 1217.3 2129.9 1223.9 2130.3C1230.5 2130.7 1237.1 2127.2 1242.4 2129C1247.7 2130.8 1250.8 2137.2 1255.6 2140.9C1260.4 2144.6 1266.1 2148.1 1271.4 2151.4C1276.7 2154.7 1278.9 2158 1287.3 2160.7C1295.7 2163.3 1309.3 2165.1 1321.6 2167.3C1333.9 2169.5 1345.8 2171.7 1361.2 2173.9C1376.6 2176.1 1396.4 2178.3 1414 2180.5C1431.6 2182.7 1449.2 2185.6 1466.8 2187.1C1484.4 2188.6 1502 2188.8 1519.6 2189.7C1537.2 2190.6 1555.7 2191.5 1572.4 2192.4C1589.1 2193.3 1603.1 2193.8 1620 2195C1636.9 2196.2 1651.4 2198.2 1673.8 2199.6C1696.2 2201 1727.7 2202.3 1754.6 2203.7C1781.5 2205 1808.5 2207.1 1835.4 2207.7C1862.3 2208.3 1893.8 2207.9 1916.2 2207.2C1938.6 2206.5 1952 2205 1970 2203.7C1988 2202.4 2006 2201.2 2023.9 2199.6C2041.9 2198 2063 2195.3 2077.7 2194.2C2092.4 2193.1 2106.3 2193.1 2112 2192.9"/>
<path stroke="#4A6DB0" stroke-dasharray="38 16" stroke-dashoffset="22" d="M325.3 2163.2C327.4 2160.7 334.8 2154 338 2148.4C341.2 2142.8 342.2 2135.4 344.3 2129.4C346.4 2123.4 347.5 2119.2 350.7 2112.5C353.9 2105.8 359.5 2095.6 363.4 2089.3C367.3 2083 370.4 2078.4 373.9 2074.5C377.4 2070.6 381.7 2067.4 384.5 2066C387.3 2064.6 388 2063.9 390.8 2066C393.6 2068.1 397.5 2073.8 401.4 2078.7C405.3 2083.6 410.5 2089.6 414 2095.6C417.5 2101.6 419.7 2108.3 422.5 2114.6C425.3 2120.9 427.4 2126.2 430.9 2133.6C434.4 2141 439 2150.6 443.6 2159C448.2 2167.4 453.5 2177.3 458.4 2184.3C463.3 2191.3 467.9 2197 473.2 2201.2C478.5 2205.4 483.8 2207.5 490.1 2209.6C496.4 2211.7 504.2 2213 511.2 2213.9C518.2 2214.8 525.3 2215.2 532.3 2214.9C539.3 2214.6 546.3 2213 553.4 2211.8C560.5 2210.6 567.5 2208.9 574.6 2207.5C581.7 2206.1 588.7 2204.5 595.7 2203.3C602.7 2202.1 609.1 2201.9 616.8 2200.1C624.5 2198.3 633.3 2196.4 642.1 2192.7C650.9 2189 662 2182.8 669.6 2178C677.2 2173.2 681.2 2171.6 687.8 2164.1C694.4 2156.6 703 2144.1 709.1 2133.1C715.2 2122.1 719.4 2113.1 724.6 2098.2C729.8 2083.3 734.9 2062 740.1 2043.9C745.3 2025.8 751.1 2006.7 755.6 1989.6C760.1 1972.5 763.7 1956.3 767.3 1941.1C770.9 1925.9 774.4 1912.1 777 1898.5C779.6 1884.9 781 1878 782.8 1859.7C784.6 1841.4 785.6 1813.1 787.7 1788.4C789.8 1763.8 792.4 1735.2 795.4 1711.8C798.4 1688.4 802.6 1664.2 805.6 1648C808.6 1631.8 810.7 1623.3 813.2 1614.8C815.8 1606.3 818 1600 820.9 1597C823.8 1594 826.2 1602 830.8 1596.9C835.4 1591.8 843.6 1576.1 848.7 1566.3C853.8 1556.5 857.7 1548 861.5 1538.2C865.3 1528.4 868.3 1519.1 871.7 1507.6C875.1 1496.1 878.9 1482.1 881.9 1469.3C884.9 1456.5 886.9 1448 889.5 1431C892.1 1414 894.5 1387.6 897.4 1367.4C900.2 1347.2 903.9 1329.1 906.6 1310C909.3 1290.9 911.2 1271.7 913.5 1252.6C915.8 1233.5 918.5 1214.3 920.4 1195.2C922.3 1176.1 923.5 1156.9 925 1137.8C926.5 1118.7 928.1 1099.5 929.6 1080.4C931.1 1061.3 933 1043.1 934.2 1023C935.4 1002.9 936.2 974.2 937 960C937.8 945.8 938.3 951.7 939.2 937.8C940.1 923.9 940.9 900.3 942.2 876.5C943.6 852.7 945.6 818.7 947.3 794.9C949 771.1 950.7 754.1 952.4 733.7C954.1 713.3 955.7 687 957.6 672.4C959.5 657.8 962 639.2 963.7 646C965.4 652.8 966.4 691.9 967.8 713.3C969.1 734.7 970.6 754.1 971.8 774.5C973 794.9 973.9 811.9 974.9 835.7C975.9 859.5 977.2 889.9 978 917.3C978.8 944.7 979 972.9 979.6 1000C980.2 1027.1 980.9 1053.3 981.5 1080C982.1 1106.7 982.8 1131.7 983.5 1160C984.2 1188.3 985.1 1218.3 986 1250C986.9 1281.7 988 1316.7 989 1350C990 1383.3 991 1416.7 992 1450C993 1483.3 993.8 1516.7 995 1550C996.2 1583.3 997.6 1622.5 999 1650C1000.4 1677.5 1001.4 1693.4 1003.4 1714.8C1005.4 1736.2 1008.5 1759.5 1011 1778.6C1013.5 1797.7 1015.7 1812.6 1018.7 1829.6C1021.7 1846.6 1024.7 1865.7 1028.9 1880.6C1033.2 1895.5 1039.5 1908.3 1044.2 1918.9C1048.9 1929.5 1051.8 1935.1 1056.9 1944.4C1062 1953.8 1068.4 1965.7 1074.8 1975C1081.2 1984.3 1089.7 1992.8 1095.2 2000.5C1100.7 2008.2 1102.9 2013.2 1108 2020.9C1113.1 2028.6 1118.6 2037.4 1125.8 2046.4C1133 2055.4 1142.8 2066.1 1151.3 2075C1159.8 2083.9 1168 2092.1 1176.6 2100C1185.2 2107.9 1194 2117.8 1202.8 2122.4C1211.6 2127 1220.4 2127.5 1229.2 2127.7C1238 2127.9 1248.1 2121.9 1255.6 2123.7C1263.1 2125.4 1266.6 2133.3 1274.1 2138.2C1281.6 2143 1290.4 2149.7 1300.5 2152.8C1310.6 2155.9 1324.7 2155.6 1334.8 2156.7C1344.9 2157.8 1350.2 2158.1 1361.2 2159.4C1372.2 2160.7 1387.6 2162.6 1400.8 2164.6C1414 2166.6 1425 2168.8 1440.4 2171.2C1455.8 2173.6 1475.6 2177.4 1493.2 2179.2C1510.8 2181 1528.4 2181.2 1546 2181.8C1563.6 2182.5 1586.5 2182.7 1598.8 2183.1C1611.1 2183.5 1609.7 2183 1620 2184C1630.3 2185 1642.5 2186.3 1660.4 2188.9C1678.4 2191.5 1703 2196.9 1727.7 2199.6C1752.4 2202.3 1781.6 2203.9 1808.5 2205C1835.4 2206.1 1866.9 2206.6 1889.3 2206.4C1911.7 2206.2 1920.7 2204.8 1943.1 2203.7C1965.5 2202.6 1995.8 2201.2 2023.9 2199.6C2052.1 2198 2097.3 2195.1 2112 2194.2"/>
</g>
<g fill="#000" stroke="none">
<rect x="262.3" y="30.3" width="3" height="2200" fill="#6e6e6e"/>
<rect x="2115" y="35.8" width="3" height="2194.4" fill="#666"/>
<rect x="262.3" y="2227.2" width="1855.7" height="3" fill="#505050"/>
<rect x="265.2" y="30.2" width="1849.9" height="5.6"/>
<rect x="265.2" y="30.2" width="5.7" height="2197"/>
<rect x="2109.5" y="30.2" width="5.6" height="2197"/>
<rect x="265.2" y="2221.6" width="1849.9" height="5.6"/>
</g>
<g stroke="#000" fill="none">
<path stroke-width="3.0" d="M253.4 2225.5H285M253.4 2121.1H266M253.4 2016.7H266M253.4 1912.3H266M253.4 1807.9H285M253.4 1703.5H266M253.4 1599.1H266M253.4 1494.7H266M253.4 1390.3H285M253.4 1285.9H266M253.4 1181.5H266M253.4 1077.1H266M253.4 972.7H285M253.4 868.3H266M253.4 763.9H266M253.4 659.5H266M253.4 555.1H285M253.4 450.7H266M253.4 346.3H266M253.4 241.9H266M253.4 137.5H285M253.4 34.4H266"/>
<path stroke-width="3.0" d="M2094.7 2225.5H2126.5M2114 2185.6H2126.5M2114 2145.8H2126.5M2114 2105.9H2126.5M2114 2066H2126.5M2114 2026.1H2126.5M2114 1986.3H2126.5M2114 1946.4H2126.5M2114 1906.5H2126.5M2114 1866.7H2126.5M2094.7 1826.8H2126.5M2114 1786.9H2126.5M2114 1747H2126.5M2114 1707.2H2126.5M2114 1667.3H2126.5M2114 1627.4H2126.5M2114 1587.5H2126.5M2114 1547.7H2126.5M2114 1507.8H2126.5M2114 1467.9H2126.5M2094.7 1428.1H2126.5M2114 1388.2H2126.5M2114 1348.3H2126.5M2114 1308.4H2126.5M2114 1268.6H2126.5M2114 1228.7H2126.5M2114 1188.8H2126.5M2114 1149H2126.5M2114 1109.1H2126.5M2114 1069.2H2126.5M2094.7 1029.3H2126.5M2114 989.5H2126.5M2114 949.6H2126.5M2114 909.7H2126.5M2114 869.9H2126.5M2114 830H2126.5M2114 790.1H2126.5M2114 750.2H2126.5M2114 710.4H2126.5M2114 670.5H2126.5M2094.7 630.6H2126.5M2114 590.7H2126.5M2114 550.9H2126.5M2114 511H2126.5M2114 471.1H2126.5M2114 431.3H2126.5M2114 391.4H2126.5M2114 351.5H2126.5M2114 311.6H2126.5M2114 271.8H2126.5M2094.7 231.9H2126.5M2114 192H2126.5M2114 152.2H2126.5M2114 112.3H2126.5M2114 72.4H2126.5M2114 34.5H2126.5"/>
<path stroke-width="3.0" d="M266.7 2209V2238.7M369.3 2226V2238.7M471.8 2226V2238.7M574.4 2226V2238.7M677 2209V2238.7M779.6 2226V2238.7M882.1 2226V2238.7M984.7 2226V2238.7M1087.3 2209V2238.7M1189.8 2226V2238.7M1292.4 2226V2238.7M1395 2226V2238.7M1497.6 2209V2238.7M1600.1 2226V2238.7M1702.7 2226V2238.7M1805.3 2226V2238.7M1907.9 2209V2238.7M2010.4 2226V2238.7M2113 2226V2238.7"/>
</g>
<g font-size="61">
<text x="214" y="2245" text-anchor="end">0</text>
<text x="214" y="1827.4" text-anchor="end">20</text>
<text x="214" y="1409.8" text-anchor="end">40</text>
<text x="214" y="992.2" text-anchor="end">60</text>
<text x="214" y="574.6" text-anchor="end">80</text>
<text x="214" y="157" text-anchor="end">100</text>
<text x="2167.5" y="2244.7">0.0</text>
<text x="2167.5" y="1846">0.2</text>
<text x="2167.5" y="1447.3">0.4</text>
<text x="2167.5" y="1048.5">0.6</text>
<text x="2167.5" y="649.8">0.8</text>
<text x="2167.5" y="251.1">1.0</text>
<text x="266.7" y="2316" text-anchor="middle">0</text>
<text x="677" y="2316" text-anchor="middle">200</text>
<text x="1087.3" y="2316" text-anchor="middle">400</text>
<text x="1497.6" y="2316" text-anchor="middle">600</text>
<text x="1907.9" y="2316" text-anchor="middle">800</text>
</g>
<text x="1186" y="2399.5" font-size="61" text-anchor="middle">Temperature (°C)</text>
<text transform="translate(84.5 1107) rotate(-90)" font-size="61" text-anchor="middle">TG (wt, %)</text>
<text transform="translate(2330.5 1070) rotate(-90)" font-size="61" text-anchor="middle">-DTG (% wt °C<tspan font-size="40" dy="-22">-1</tspan><tspan dy="22">)</tspan></text>
<g font-size="51">
<line x1="1116.6" y1="124.2" x2="1200.7" y2="124.2" stroke="#000000" stroke-width="5.5"/>
<line x1="1336.6" y1="124.2" x2="1375.4" y2="124.2" stroke="#000000" stroke-width="5.5"/>
<line x1="1391.6" y1="124.2" x2="1429.9" y2="124.2" stroke="#000000" stroke-width="5.5"/>
<text x="1216" y="139">TGA</text>
<text x="1450" y="139">DTG</text>
<text x="1604.3" y="139">850 &lt; dp4 &lt; 1680 μm</text>
<line x1="1116.6" y1="219.0" x2="1200.7" y2="219.0" stroke="#6EA552" stroke-width="5.5"/>
<line x1="1336.6" y1="219.0" x2="1375.4" y2="219.0" stroke="#6EA552" stroke-width="5.5"/>
<line x1="1391.6" y1="219.0" x2="1429.9" y2="219.0" stroke="#6EA552" stroke-width="5.5"/>
<text x="1216" y="230.5">TGA</text>
<text x="1450" y="230.5">DTG</text>
<text x="1603.3" y="230.5">600 &lt; dp3 &lt; 850 μm</text>
<line x1="1116.6" y1="313.1" x2="1200.7" y2="313.1" stroke="#D98450" stroke-width="5.5"/>
<line x1="1336.6" y1="313.1" x2="1375.4" y2="313.1" stroke="#D98450" stroke-width="5.5"/>
<line x1="1391.6" y1="313.1" x2="1429.9" y2="313.1" stroke="#D98450" stroke-width="5.5"/>
<text x="1216" y="321.7">TGA</text>
<text x="1450" y="321.7">DTG</text>
<text x="1603.5" y="321.7">150 &lt; dp2 &lt; 300 μm</text>
<line x1="1116.6" y1="407.7" x2="1200.7" y2="407.7" stroke="#4A6DB0" stroke-width="5.5"/>
<line x1="1336.6" y1="407.7" x2="1375.4" y2="407.7" stroke="#4A6DB0" stroke-width="5.5"/>
<line x1="1391.6" y1="407.7" x2="1429.9" y2="407.7" stroke="#4A6DB0" stroke-width="5.5"/>
<text x="1216" y="413.2">TGA</text>
<text x="1450" y="413.2">DTG</text>
<text x="1628.5" y="413.2">75 &lt; d<tspan font-size="34" dy="11.5">p1</tspan><tspan dy="-11.5"> &lt; 150 μm</tspan></text>
</g>
</svg>
</body></html>
